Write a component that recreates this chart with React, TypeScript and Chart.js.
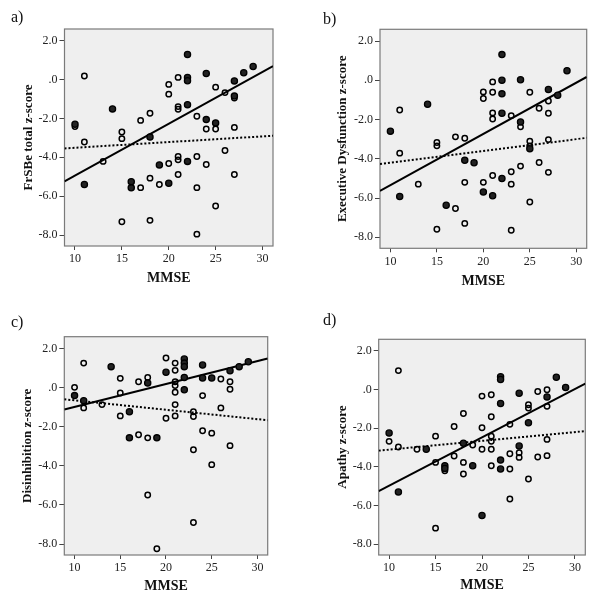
import React, { useEffect, useRef } from "react";
import { Chart, registerables } from "chart.js";

Chart.register(...registerables);

const SERIF = "'Liberation Serif', 'Times New Roman', serif";

// Shared axes
const xTicks = [10, 15, 20, 25, 30];
const yTicks = [-8, -6, -4, -2, 0, 2];
const yTickLabels = ["-8.0", "-6.0", "-4.0", "-2.0", ".0", "2.0"];
const xRange = [8.88, 31.12];
const yRange = [-8.56, 2.6];

// Panel a) FrSBe total
const aFilled = [
  [10, -2.3], [11, -5.4], [14, -1.51], [16, -5.25], [16, -5.57], [18, -2.96], [19, -4.39], [20, -5.33],
  [22, 1.29], [22, 0.11], [22, -0.06], [22, -1.29], [22, -4.21], [24, 0.31], [24, -2.06], [25, -2.23],
  [27, -0.07], [27, -0.85], [28, 0.35], [29, 0.67],
];
const aOpen = [
  [10, -2.42], [11, 0.18], [11, -3.21], [13, -4.21], [15, -2.7], [15, -3.04], [15, -7.31], [17, -2.1],
  [17, -5.56], [18, -1.73], [18, -5.07], [18, -7.24], [19, -5.4], [20, -0.25], [20, -0.75], [20, -4.32],
  [21, 0.11], [21, -1.39], [21, -1.53], [21, -3.96], [21, -4.13], [21, -4.88], [23, -1.89], [23, -3.96],
  [23, -5.56], [23, -7.95], [24, -2.54], [24, -4.37], [25, -0.39], [25, -2.54], [25, -6.5], [26, -0.67],
  [26, -3.65], [27, -0.95], [27, -2.46], [27, -4.88],
];
const aSolidFit = [-5.24, 0.69];
const aDottedFit = [-3.54, -2.89];

// Panel b) Executive Dysfunction
const bFilled = [
  [10, -2.59], [11, -5.92], [14, -1.22], [16, -6.37], [18, -4.07], [19, -4.2], [20, -5.69], [21, -5.88],
  [22, 1.31], [22, 0.0], [22, -0.69], [22, -1.68], [22, -5.0], [24, 0.03], [24, -2.12], [25, -3.49],
  [27, -0.47], [28, -0.76], [29, 0.49],
];
const bOpen = [
  [11, -1.51], [11, -3.71], [13, -5.29], [15, -3.17], [15, -3.34], [15, -7.59], [17, -2.88], [17, -6.53],
  [18, -2.95], [18, -5.2], [18, -7.29], [20, -0.59], [20, -0.93], [20, -5.2], [21, -0.08], [21, -0.61],
  [21, -1.66], [21, -1.97], [21, -4.85], [23, -1.8], [23, -4.66], [23, -5.29], [23, -7.64], [24, -2.37],
  [24, -4.37], [25, -0.61], [25, -3.1], [25, -3.34], [25, -6.2], [26, -1.42], [26, -4.19], [27, -1.05],
  [27, -1.68], [27, -3.02], [27, -4.69],
];
const bSolidFit = [-5.64, 0.17];
const bDottedFit = [-4.27, -2.93];

// Panel c) Disinhibition
const cFilled = [
  [10, -0.41], [11, -0.67], [14, 1.07], [16, -1.24], [16, -2.57], [18, 0.23], [19, -2.57], [20, 0.78],
  [22, 1.46], [22, 1.25], [22, 1.07], [22, 0.52], [22, -0.11], [24, 1.15], [24, 0.49], [25, 0.49],
  [27, 0.86], [28, 1.07], [29, 1.32],
];
const cOpen = [
  [10, 0.01], [11, 1.25], [11, -1.04], [13, -0.87], [15, 0.47], [15, -0.28], [15, -1.45], [17, 0.3],
  [17, -2.41], [18, 0.52], [18, -2.57], [18, -5.49], [19, -8.24], [20, 1.51], [20, -1.57], [21, 1.25],
  [21, 0.88], [21, 0.3], [21, 0.1], [21, -0.24], [21, -0.87], [21, -1.45], [23, -1.24], [23, -1.48],
  [23, -3.18], [23, -6.9], [24, -0.41], [24, -2.21], [25, -2.33], [25, -3.94], [26, 0.44], [26, -1.04],
  [27, 0.3], [27, -0.09], [27, -2.97],
];
const cSolidFit = [-1.12, 1.49];
const cDottedFit = [-0.6, -1.67];

// Panel d) Apathy
const dFilled = [
  [10, -2.25], [11, -5.3], [14, -3.09], [16, -3.94], [16, -4.08], [18, -2.78], [19, -3.94], [20, -6.52],
  [22, 0.66], [22, 0.52], [22, -0.72], [22, -3.65], [22, -4.11], [24, -0.19], [24, -2.92], [25, -1.72],
  [27, -0.38], [28, 0.64], [29, 0.11],
];
const dOpen = [
  [10, -2.68], [11, 0.98], [11, -2.97], [13, -3.09], [15, -2.41], [15, -3.77], [15, -7.17], [16, -4.2],
  [17, -1.91], [17, -3.44], [18, -1.24], [18, -3.77], [18, -4.37], [19, -2.87], [20, -0.34], [20, -1.98],
  [20, -3.09], [21, -0.27], [21, -1.41], [21, -2.41], [21, -2.68], [21, -3.09], [21, -3.94], [23, -1.8],
  [23, -3.32], [23, -4.11], [23, -5.66], [24, -3.27], [24, -3.51], [25, -0.79], [25, -0.96], [25, -4.63],
  [26, -0.1], [26, -3.49], [27, -0.01], [27, -0.87], [27, -2.58], [27, -3.42],
];
const dSolidFit = [-5.25, 0.31];
const dDottedFit = [-3.16, -2.15];

const panelLetters = ["a)", "b)", "c)", "d)"];
const yTitles = [
  "FrSBe total z-score",
  "Executive Dysfunction z-score",
  "Disinhibition z-score",
  "Apathy z-score",
];
const xTitle = "MMSE";

type PanelProps = {
  left: number;
  top: number;
  width: number;
  height: number;
  area: { l: number; r: number; t: number; b: number };
  yTitlePad: number;
  xTitlePad: number;
  filled: number[][];
  open: number[][];
  solidFit: number[];
  dottedFit: number[];
  yTitle: string;
};

function Panel(p: PanelProps) {
  const ref = useRef<HTMLCanvasElement>(null);
  useEffect(() => {
    if (!ref.current) return;
    const toPts = (arr: number[][]) => arr.map(([x, y]) => ({ x, y }));
    const fitPts = (f: number[]) => [
      { x: xRange[0], y: f[0] },
      { x: xRange[1], y: f[1] },
    ];
    const framePlugin = {
      id: "frame",
      beforeDatasetsDraw(chart: any) {
        const { ctx, chartArea: a } = chart;
        ctx.save();
        ctx.fillStyle = "#efefef";
        ctx.fillRect(a.left, a.top, a.right - a.left, a.bottom - a.top);
        ctx.strokeStyle = "#7a7a7a";
        ctx.lineWidth = 1.2;
        ctx.strokeRect(a.left, a.top, a.right - a.left, a.bottom - a.top);
        ctx.restore();
      },
    };
    const tickFont = { family: SERIF, size: 12 };
    const chart = new Chart(ref.current, {
      type: "scatter",
      data: {
        datasets: [
          {
            data: toPts(p.filled),
            pointRadius: 3.1,
            pointBorderWidth: 1.3,
            pointBackgroundColor: "#222",
            pointBorderColor: "#000",
          },
          {
            type: "line",
            data: fitPts(p.solidFit),
            borderColor: "#000",
            borderWidth: 2,
            pointRadius: 0,
            fill: false,
          } as any,
          {
            type: "line",
            data: fitPts(p.dottedFit),
            borderColor: "#000",
            borderWidth: 2,
            borderDash: [2, 2],
            pointRadius: 0,
            fill: false,
          } as any,
          {
            data: toPts(p.open),
            pointRadius: 2.7,
            pointBorderWidth: 1.5,
            pointBackgroundColor: "rgba(0,0,0,0)",
            pointBorderColor: "#000",
          },
        ],
      },
      options: {
        responsive: false,
        animation: false,
        events: [],
        layout: { padding: { top: p.area.t, right: p.width - p.area.r, left: 0, bottom: 0 } },
        plugins: { legend: { display: false }, tooltip: { enabled: false } },
        scales: {
          x: {
            type: "linear",
            min: xRange[0],
            max: xRange[1],
            afterBuildTicks: (s: any) => {
              s.ticks = xTicks.map((v) => ({ value: v }));
            },
            afterFit: (s: any) => {
              s.height = p.height - p.area.b;
            },
            ticks: {
              font: tickFont,
              color: "#222",
              padding: 2,
              maxRotation: 0,
              callback: (v: any) => String(v),
            },
            grid: { drawOnChartArea: false, drawTicks: true, tickLength: 4, color: "#444" },
            border: { display: false },
            title: {
              display: true,
              text: xTitle,
              color: "#111",
              font: { family: SERIF, size: 14, weight: "bold" },
              padding: { top: 0, bottom: p.xTitlePad },
            },
          },
          y: {
            type: "linear",
            min: yRange[0],
            max: yRange[1],
            afterBuildTicks: (s: any) => {
              s.ticks = yTicks.map((v) => ({ value: v }));
            },
            afterFit: (s: any) => {
              s.width = p.area.l;
            },
            ticks: {
              font: tickFont,
              color: "#222",
              padding: 2,
              callback: (v: any) => {
                const i = yTicks.indexOf(Number(v));
                return i >= 0 ? yTickLabels[i] : "";
              },
            },
            grid: { drawOnChartArea: false, drawTicks: true, tickLength: 5, color: "#444" },
            border: { display: false },
            title: {
              display: true,
              text: p.yTitle,
              color: "#111",
              font: { family: SERIF, size: 13, weight: "bold" },
              padding: { top: p.yTitlePad, bottom: 0 },
            },
          },
        },
      } as any,
      plugins: [framePlugin],
    });
    return () => chart.destroy();
  }, []);
  return (
    <canvas
      ref={ref}
      width={p.width}
      height={p.height}
      style={{ position: "absolute", left: p.left, top: p.top, width: p.width, height: p.height }}
    />
  );
}

const letterStyle: React.CSSProperties = {
  position: "absolute",
  fontFamily: SERIF,
  fontSize: 16,
  color: "#111",
  lineHeight: "18px",
};

export default function App() {
  return (
    <div
      style={{
        position: "absolute",
        left: 0,
        top: 0,
        width: 597,
        height: 600,
        background: "#fff",
        overflow: "hidden",
      }}
    >
      <Panel
        left={0}
        top={0}
        width={298}
        height={300}
        area={{ l: 64.5, r: 273, t: 29, b: 246 }}
        yTitlePad={20.5}
        xTitlePad={13}
        filled={aFilled}
        open={aOpen}
        solidFit={aSolidFit}
        dottedFit={aDottedFit}
        yTitle={yTitles[0]}
      />
      <Panel
        left={298}
        top={0}
        width={299}
        height={300}
        area={{ l: 82, r: 288.7, t: 29.3, b: 248.3 }}
        yTitlePad={37}
        xTitlePad={10}
        filled={bFilled}
        open={bOpen}
        solidFit={bSolidFit}
        dottedFit={bDottedFit}
        yTitle={yTitles[1]}
      />
      <Panel
        left={0}
        top={300}
        width={298}
        height={300}
        area={{ l: 64.3, r: 267.7, t: 36.7, b: 255 }}
        yTitlePad={20.2}
        xTitlePad={5}
        filled={cFilled}
        open={cOpen}
        solidFit={cSolidFit}
        dottedFit={cDottedFit}
        yTitle={yTitles[2]}
      />
      <Panel
        left={298}
        top={300}
        width={299}
        height={300}
        area={{ l: 80.7, r: 287.3, t: 39.3, b: 255 }}
        yTitlePad={37.2}
        xTitlePad={6.6}
        filled={dFilled}
        open={dOpen}
        solidFit={dSolidFit}
        dottedFit={dDottedFit}
        yTitle={yTitles[3]}
      />
      <div style={{ ...letterStyle, left: 11, top: 8 }}>{panelLetters[0]}</div>
      <div style={{ ...letterStyle, left: 323, top: 10 }}>{panelLetters[1]}</div>
      <div style={{ ...letterStyle, left: 11, top: 313 }}>{panelLetters[2]}</div>
      <div style={{ ...letterStyle, left: 323, top: 311 }}>{panelLetters[3]}</div>
    </div>
  );
}
